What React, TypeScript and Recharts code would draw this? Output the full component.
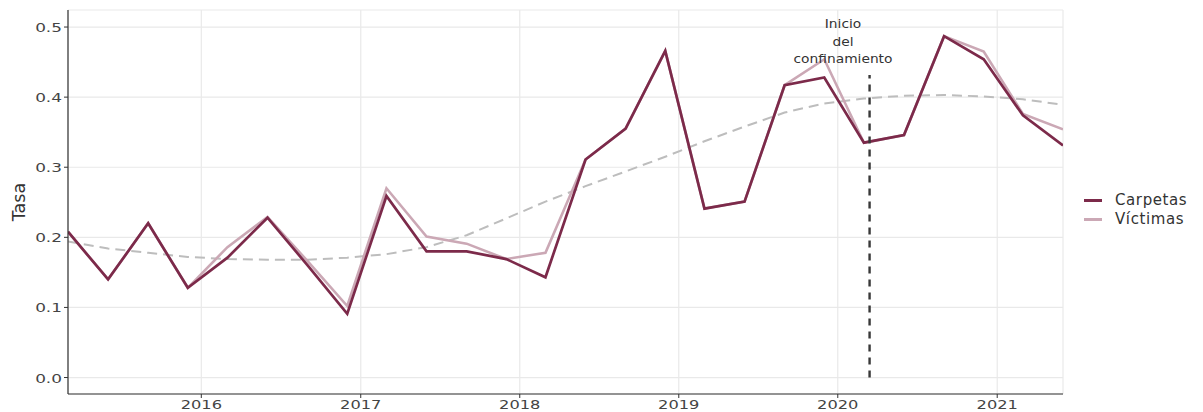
import React from 'react';
import { LineChart, Line, XAxis, YAxis, CartesianGrid, ReferenceLine, ReferenceDot } from 'recharts';

// Quarterly observation dates
const dates = [
  '2015-03-01', '2015-06-01', '2015-09-01', '2015-12-01',
  '2016-03-01', '2016-06-01', '2016-09-01', '2016-12-01',
  '2017-03-01', '2017-06-01', '2017-09-01', '2017-12-01',
  '2018-03-01', '2018-06-01', '2018-09-01', '2018-12-01',
  '2019-03-01', '2019-06-01', '2019-09-01', '2019-12-01',
  '2020-03-01', '2020-06-01', '2020-09-01', '2020-12-01',
  '2021-03-01', '2021-06-01',
];

const carpetas = [
  0.208, 0.140, 0.220, 0.128,
  0.171, 0.228, 0.160, 0.091,
  0.259, 0.180, 0.180, 0.169,
  0.143, 0.311, 0.355, 0.466,
  0.241, 0.251, 0.417, 0.428,
  0.335, 0.346, 0.487, 0.454,
  0.374, 0.331,
];

const victimas = [
  0.208, 0.140, 0.220, 0.128,
  0.186, 0.229, 0.166, 0.102,
  0.270, 0.201, 0.191, 0.169,
  0.178, 0.311, 0.355, 0.466,
  0.241, 0.251, 0.417, 0.454,
  0.335, 0.346, 0.487, 0.465,
  0.376, 0.354,
];

// smoothed trend (dashed grey)
const tendencia = [
  0.194, 0.184, 0.178, 0.172,
  0.169, 0.168, 0.168, 0.171,
  0.176, 0.186, 0.203, 0.227,
  0.251, 0.273, 0.294, 0.315,
  0.337, 0.358, 0.378, 0.391,
  0.398, 0.402, 0.403, 0.401,
  0.397, 0.389,
];

const yearTicks = [2016, 2017, 2018, 2019, 2020, 2021];
const yTicks = [0, 0.1, 0.2, 0.3, 0.4, 0.5];

const lockdownDate = '2020-03-14';
const lockdownTop = 0.4315;
const annotationDate = '2020-01-13';
const annotationY = 0.4793;
const annotationLines = ['Inicio', 'del', 'confinamiento'];

const seriesNames = ['Carpetas', 'Víctimas'];
const colorCarpetas = '#7c2a4a';
const colorVictimas = '#cba8b5';
const colorTrend = '#bdbdbd';

const toTs = (d: string) => {
  const [y, m, dd] = d.split('-').map(Number);
  return Date.UTC(y, m - 1, dd);
};

const data = dates.map((d, i) => ({
  t: toTs(d),
  carpetas: carpetas[i],
  victimas: victimas[i],
  tendencia: tendencia[i],
}));

const xTicks = yearTicks.map((y) => Date.UTC(y, 0, 1));
const FONT = '"DejaVu Sans", sans-serif';
const SX = 1.25;

const XTick = (props: any) => {
  const { x, y, payload } = props;
  return (
    <text
      transform={`translate(${x},${y + 9}) scale(${SX + 0.05},1)`}
      textAnchor="middle"
      fill="#444"
      fontSize={12.5}
      fontFamily={FONT}
    >
      {new Date(payload.value).getUTCFullYear()}
    </text>
  );
};

const YTick = (props: any) => {
  const { x, y, payload } = props;
  return (
    <text
      transform={`translate(${x},${y + 5}) scale(${SX + 0.05},1)`}
      textAnchor="end"
      fill="#444"
      fontSize={13}
      fontFamily={FONT}
    >
      {Number(payload.value).toFixed(1)}
    </text>
  );
};

const YLabel = (props: any) => {
  const vb = props.viewBox || { x: 0, y: 10, width: 68, height: 384 };
  const cx = vb.x + 19;
  const cy = vb.y + vb.height / 2;
  return (
    <text
      transform={`translate(${cx + 6},${cy}) rotate(-90)`}
      textAnchor="middle"
      fill="#333"
      fontSize={17.5}
      fontFamily={FONT}
    >
      Tasa
    </text>
  );
};

const AnnotationLabel = (props: any) => {
  const vb = props.viewBox || { x: 0, y: 0, width: 0, height: 0 };
  const cx = vb.x + (vb.width || 0) / 2;
  const cy = vb.y + (vb.height || 0) / 2;
  const offsets = [-13.5, 4.2, 21.8];
  return (
    <g>
      {annotationLines.map((s, i) => (
        <text
          key={s}
          transform={`translate(${cx},${cy + offsets[i]}) scale(1.2,1)`}
          textAnchor="middle"
          fill="#333"
          fontSize={11.5}
          fontFamily={FONT}
        >
          {s}
        </text>
      ))}
    </g>
  );
};

export default function App() {
  const legendItems = [
    { name: seriesNames[0], color: colorCarpetas },
    { name: seriesNames[1], color: colorVictimas },
  ];
  return (
    <div style={{ position: 'absolute', left: 0, top: 0, width: 1203, height: 412, background: '#fff' }}>
      <LineChart
        width={1203}
        height={412}
        data={data}
        margin={{ top: 10, right: 140, bottom: 0, left: 0 }}
        style={{ fontFamily: FONT }}
      >
        <CartesianGrid stroke="#e9e9e9" strokeWidth={1.2} />
        <XAxis
          dataKey="t"
          type="number"
          scale="linear"
          domain={[data[0].t, data[data.length - 1].t]}
          allowDataOverflow
          ticks={xTicks}
          interval={0}
          height={18}
          tickSize={4}
          tickMargin={2}
          tickLine={{ stroke: '#333' }}
          axisLine={{ stroke: '#333', strokeWidth: 1.2 }}
          tick={<XTick />}
        />
        <YAxis
          type="number"
          domain={[-0.0235, 0.5243]}
          allowDataOverflow
          ticks={yTicks}
          interval={0}
          width={68}
          tickSize={4}
          tickMargin={2}
          tickLine={{ stroke: '#333' }}
          axisLine={{ stroke: '#333', strokeWidth: 1.2 }}
          tick={<YTick />}
          label={<YLabel />}
        />
        <Line
          type="linear"
          dataKey="tendencia"
          stroke={colorTrend}
          strokeWidth={2}
          strokeDasharray="10 6"
          dot={false}
          activeDot={false}
          isAnimationActive={false}
        />
        <Line
          type="linear"
          dataKey="victimas"
          name={seriesNames[1]}
          stroke={colorVictimas}
          strokeWidth={2.6}
          dot={false}
          activeDot={false}
          isAnimationActive={false}
        />
        <Line
          type="linear"
          dataKey="carpetas"
          name={seriesNames[0]}
          stroke={colorCarpetas}
          strokeWidth={2.7}
          dot={false}
          activeDot={false}
          isAnimationActive={false}
        />
        <ReferenceLine
          segment={[
            { x: toTs(lockdownDate), y: 0 },
            { x: toTs(lockdownDate), y: lockdownTop },
          ]}
          stroke="#383838"
          strokeWidth={2.4}
          strokeDasharray="7 6"
          ifOverflow="visible"
        />
        <ReferenceDot
          x={toTs(annotationDate)}
          y={annotationY}
          r={0}
          fill="none"
          stroke="none"
          ifOverflow="visible"
          label={<AnnotationLabel />}
        />
      </LineChart>
      <div style={{ position: 'absolute', left: 1084, top: 191, fontFamily: FONT }}>
        {legendItems.map((it) => (
          <div key={it.name} style={{ display: 'flex', alignItems: 'center', height: 19 }}>
            <div style={{ width: 18, height: 2.6, background: it.color, marginRight: 13 }} />
            <span style={{ fontSize: 15, color: '#333', letterSpacing: 0.6, lineHeight: '19px' }}>{it.name}</span>
          </div>
        ))}
      </div>
    </div>
  );
}
